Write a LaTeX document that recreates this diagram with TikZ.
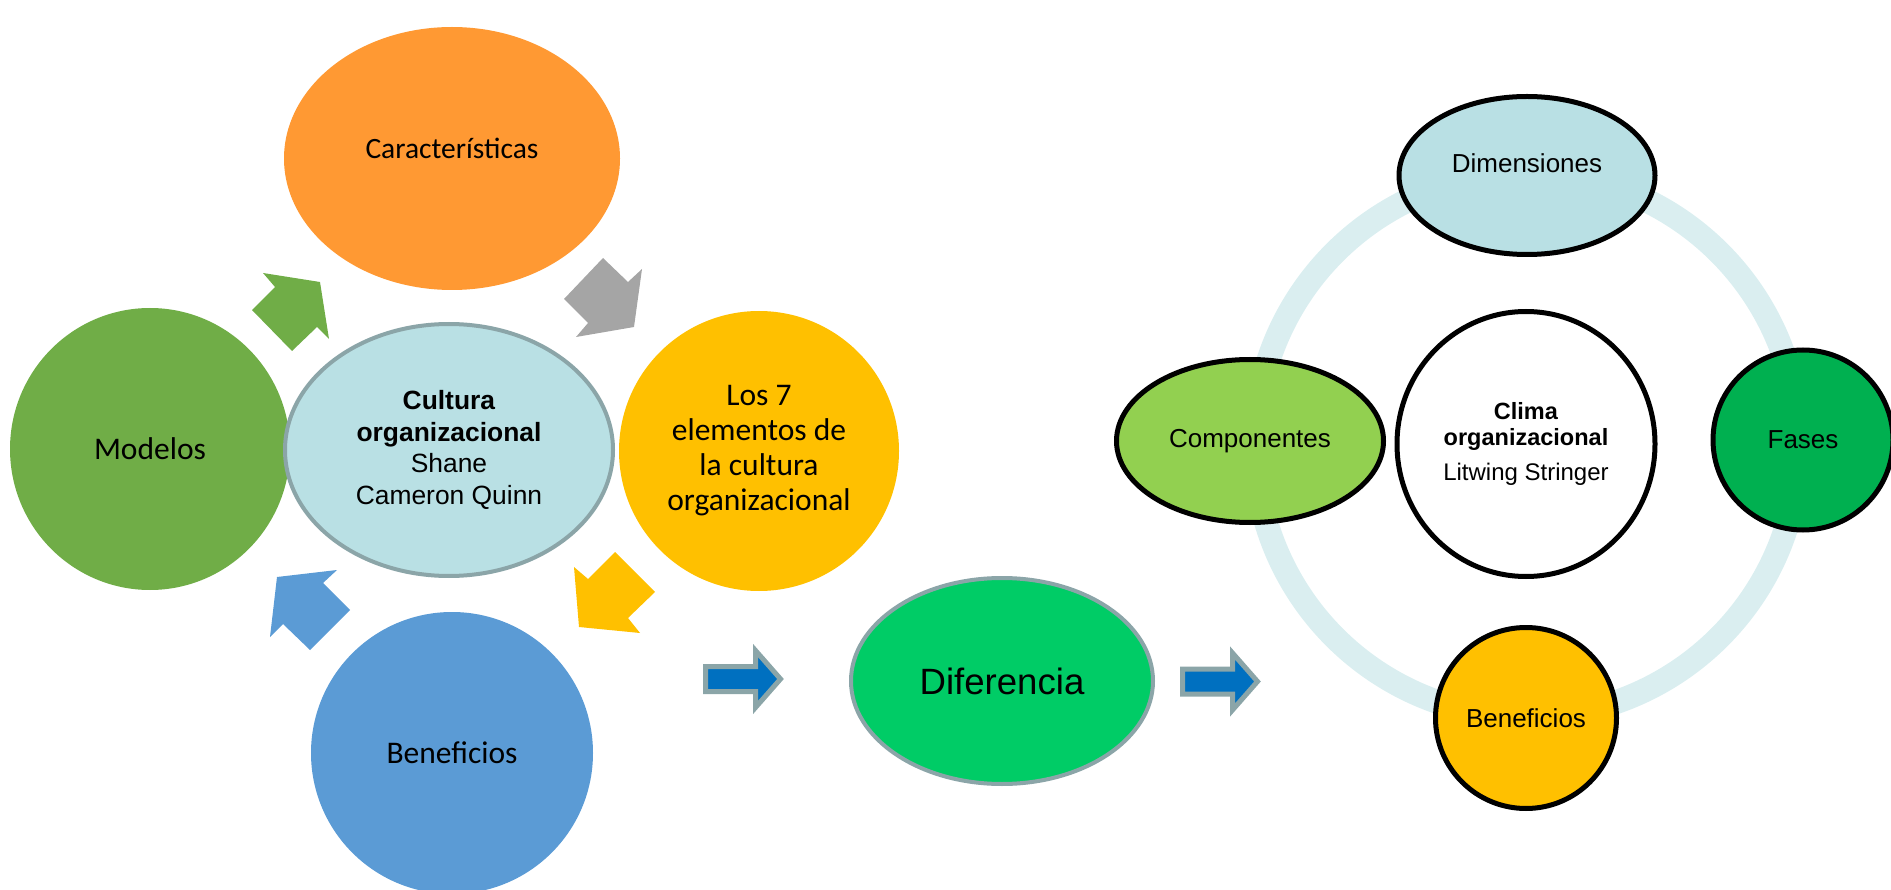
\documentclass[tikz,border=0pt]{standalone}
\usepackage{fontspec}
\setmainfont{Liberation Sans}
\newfontfamily\calibfont{Carlito}
\usetikzlibrary{shapes.geometric}
\definecolor{orangeA}{HTML}{FF9933}
\definecolor{greenA}{HTML}{70AD47}
\definecolor{cyanA}{HTML}{B9E0E4}
\definecolor{borderA}{HTML}{8BA5A8}
\definecolor{yellowA}{HTML}{FFC000}
\definecolor{blueA}{HTML}{5B9BD5}
\definecolor{grayA}{HTML}{A5A5A5}
\definecolor{difA}{HTML}{00CC66}
\definecolor{arrowA}{HTML}{0070C0}
\definecolor{compA}{HTML}{92D050}
\definecolor{fasesA}{HTML}{00B050}
\definecolor{ringA}{HTML}{DAEEF0}
\tikzset{
  blob/.style={ellipse, inner sep=0pt, outer sep=0pt, align=center, text=black},
  calib/.style={font=\calibfont\fontsize{31.5}{35}\selectfont},
  blk/.style={draw=black, line width=5pt},
  rfont/.style={font=\fontsize{26}{30}\selectfont},
  pics/flowarrow/.style={code={
    \draw[draw=borderA, fill=arrowA, line width=5pt, line join=miter]
      (0,-12.5) -- (50,-12.5) -- (50,-28.5) -- (75,0) -- (50,28.5) -- (50,12.5) -- (0,12.5) -- cycle;
  }}
}
\begin{document}
\begin{tikzpicture}[x=1pt,y=-1pt]
\useasboundingbox (0,0) rectangle (1891,890);

% ---------- left cluster ----------
\node[blob, fill=orangeA, minimum width=336pt, minimum height=263pt,
      font=\calibfont\fontsize{29.5}{35}\selectfont, text depth=21pt] (car) at (452,158.5) {Características};
\node[blob, fill=greenA, minimum width=280pt, minimum height=282pt, calib] (mod) at (150,449) {Modelos};
\node[blob, fill=yellowA, minimum width=280pt, minimum height=280pt, calib] (siete) at (759,451)
  {Los 7\\elementos de\\la cultura\\organizacional};
\node[blob, fill=blueA, minimum width=282pt, minimum height=282pt, calib] (benA) at (452,753) {Beneficios};

% chunky cycle arrows
\fill[greenA] (263,273) -- (320,282) -- (329,339) -- (317,327) -- (292,351) -- (252,310) -- (275,287) -- cycle;
\fill[grayA] (603,258) -- (628,282) -- (642,269) -- (634,327) -- (576,337) -- (588,323) -- (564,299) -- cycle;
\fill[yellowA] (615,552) -- (655,592) -- (628,618) -- (640,633) -- (579,627) -- (574,567) -- (588,579) -- cycle;
\fill[blueA] (337,570) -- (323,583) -- (350,610) -- (310,650) -- (283,624) -- (270,637) -- (277,577) -- cycle;

\node[blob, fill=cyanA, draw=borderA, line width=4pt, minimum width=328pt, minimum height=252pt,
      font=\fontsize{26.4}{31.7}\selectfont] (cult) at (449,450)
  {\textbf{Cultura}\\\textbf{organizacional}\\Shane\\Cameron Quinn};

% ---------- middle ----------
\pic at (705.5,679) {flowarrow};
\node[blob, fill=difA, draw=borderA, line width=4pt, minimum width=302pt, minimum height=206pt,
      font=\fontsize{36.6}{42}\selectfont] (dif) at (1002,681) {Diferencia};
\pic at (1182.5,681.5) {flowarrow};

% ---------- right cluster ----------
\node[circle, draw=ringA, line width=24pt, minimum size=544pt, inner sep=0pt] (ring) at (1527,445) {};
\node[blob, blk, fill=cyanA, minimum width=256pt, minimum height=158pt, rfont, text depth=25pt] (dim) at (1527,175.5) {Dimensiones};
\node[blob, blk, fill=white, minimum width=258pt, minimum height=265pt,
      font=\fontsize{23.5}{26}\selectfont] (clima) at (1526,444)
  {\textbf{Clima}\\\textbf{organizacional}\\[9pt]\fontsize{24}{26}\selectfont Litwing Stringer};
\node[blob, blk, fill=compA, minimum width=267pt, minimum height=163pt, rfont] (comp) at (1250,441) {Componentes};
\node[blob, blk, fill=fasesA, minimum width=180pt, minimum height=180pt, rfont] (fases) at (1803,440) {Fases};
\node[blob, blk, fill=yellowA, minimum width=181pt, minimum height=181pt, rfont] (benB) at (1526,718) {Beneficios};
\end{tikzpicture}
\end{document}
